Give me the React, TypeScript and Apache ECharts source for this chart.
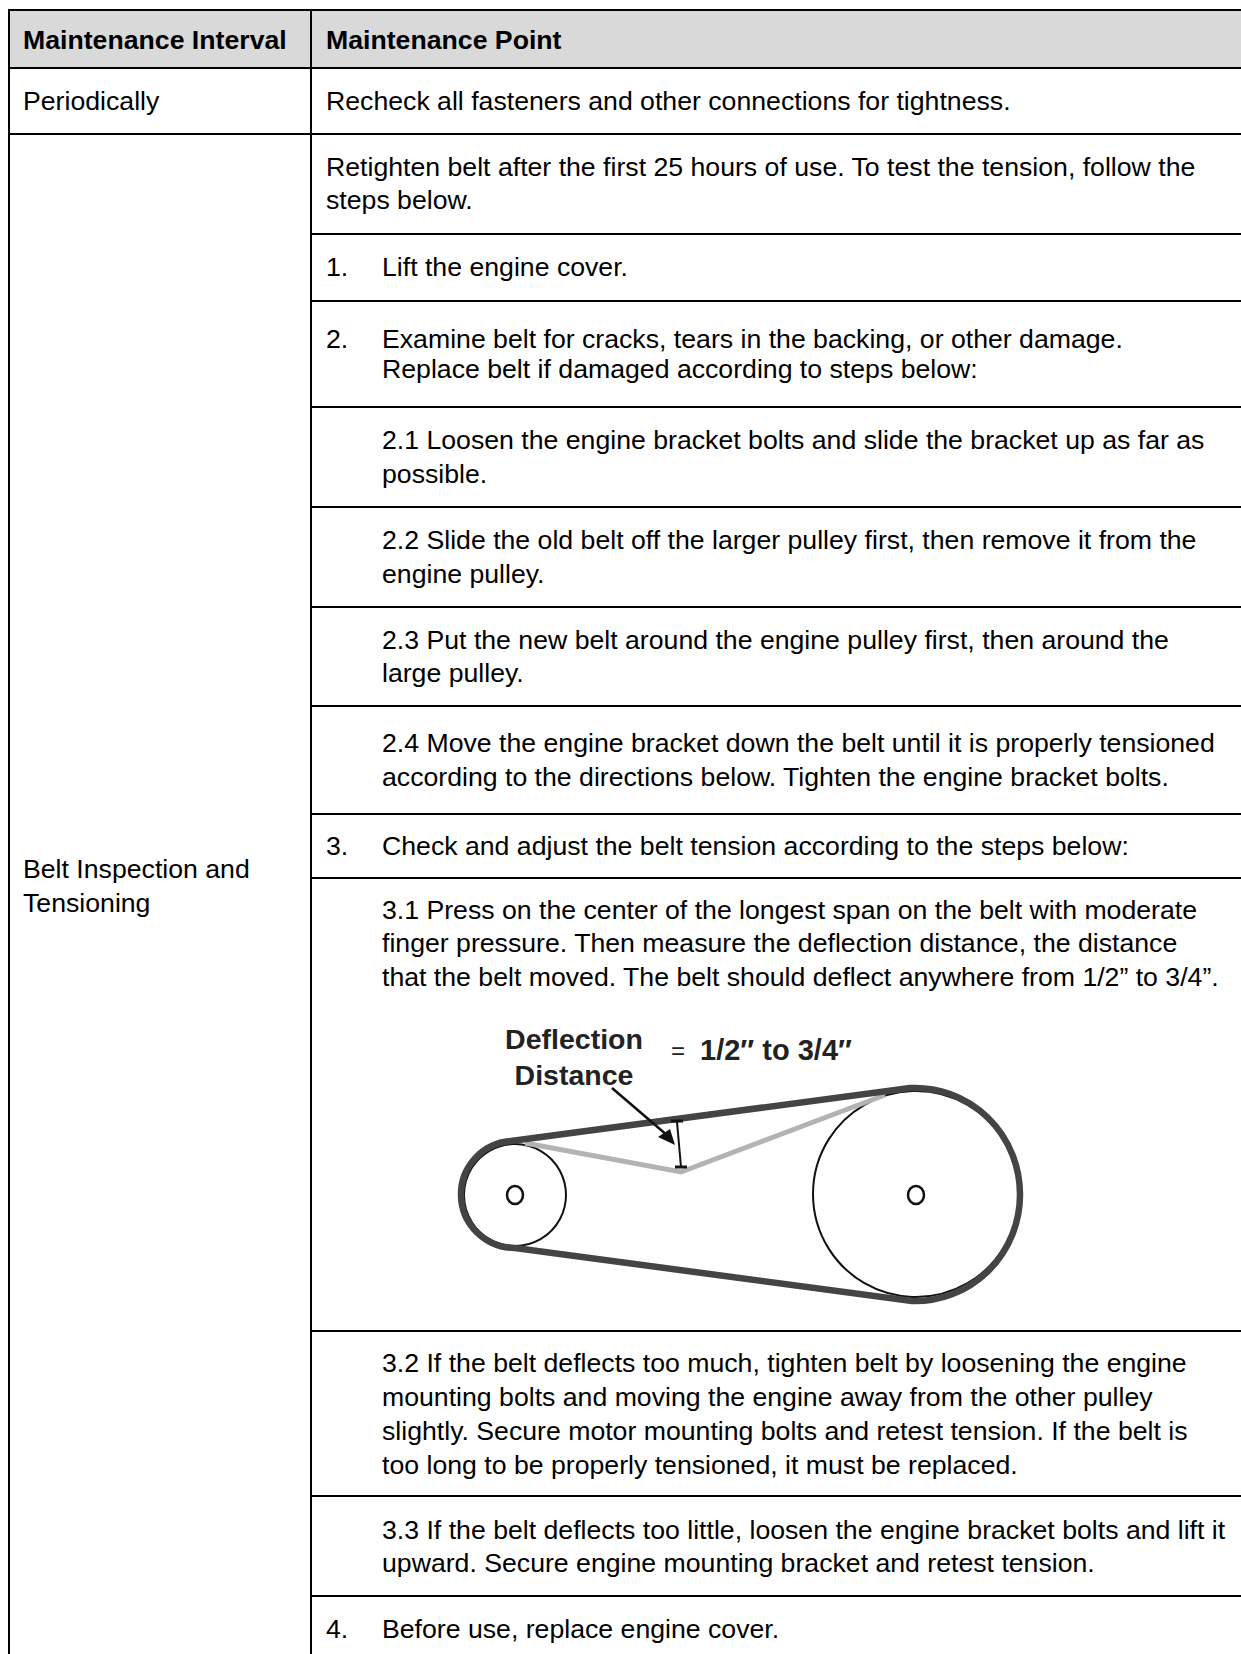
import React, { useEffect, useRef } from "react";
import * as echarts from "echarts";

const headers = ["Maintenance Interval", "Maintenance Point"];
const intervalLabels = ["Periodically", "Belt Inspection and", "Tensioning"];
const stepNumbers = ["1.", "2.", "3.", "4."];
const pointLines = [
  "Recheck all fasteners and other connections for tightness.",
  "Retighten belt after the first 25 hours of use. To test the tension, follow the",
  "steps below.",
];
const stepLines = [
  "Lift the engine cover.",
  "Examine belt for cracks, tears in the backing, or other damage.",
  "Replace belt if damaged according to steps below:",
  "2.1 Loosen the engine bracket bolts and slide the bracket up as far as",
  "possible.",
  "2.2 Slide the old belt off the larger pulley first, then remove it from the",
  "engine pulley.",
  "2.3 Put the new belt around the engine pulley first, then around the",
  "large pulley.",
  "2.4 Move the engine bracket down the belt until it is properly tensioned",
  "according to the directions below. Tighten the engine bracket bolts.",
  "Check and adjust the belt tension according to the steps below:",
  "3.1 Press on the center of the longest span on the belt with moderate",
  "finger pressure. Then measure the deflection distance, the distance",
  "that the belt moved. The belt should deflect anywhere from 1/2” to 3/4”.",
  "3.2 If the belt deflects too much, tighten belt by loosening the engine",
  "mounting bolts and moving the engine away from the other pulley",
  "slightly. Secure motor mounting bolts and retest tension. If the belt is",
  "too long to be properly tensioned, it must be replaced.",
  "3.3 If the belt deflects too little, loosen the engine bracket bolts and lift it",
  "upward. Secure engine mounting bracket and retest tension.",
  "Before use, replace engine cover.",
];
const diagramLabels = ["Deflection", "Distance", "=", "1/2″ to 3/4″"];

const W = 1241;
const H = 1654;
const FONT = '"Liberation Sans", Arial, sans-serif';
const SIZE = 26.67;
const X_LEFT = 9;
const X_COL = 311;
const X_TEXT1 = 23;
const X_TEXT2 = 326;
const X_INDENT = 382;
const ROW_FULL = [10, 68, 134];
const ROW_INNER = [234, 301, 407, 507, 607, 706, 814, 878, 1331, 1496, 1596];
const Y_POINT = [101, 167, 200];
const Y_STEP_NUM = [267, 339, 846, 1629];
const Y_STEP = [267, 339, 369, 440, 474, 540, 574, 640, 673, 743, 777, 846, 910, 943, 977, 1363, 1397, 1431, 1465, 1530, 1563, 1629];
const Y_INTERVAL = [101, 869, 903];

function App() {
  const ref = useRef<HTMLDivElement>(null);
  useEffect(() => {
    document.body.style.margin = "0";
    echarts.graphic.registerShape(
      "beltLoop",
      echarts.graphic.extendPath(
        "M511 1141 L910 1088 A105 106.5 0 0 1 1020 1195 A105 106.5 0 0 1 912 1301 L515 1248 A54 53.5 0 0 1 461 1195 A54 53.5 0 0 1 511 1141 Z",
        {}
      )
    );
    const chart = echarts.init(ref.current!, null, { renderer: "svg" });
    const txt = (s: string, x: number, y: number, extra: any = {}) => ({
      type: "text",
      x,
      y,
      style: { text: s, font: `${SIZE}px ${FONT}`, fill: "#000", textVerticalAlign: "middle", ...extra },
    });
    const ln = (x1: number, y1: number, x2: number, y2: number, stroke = "#000", lineWidth = 2) => ({
      type: "line",
      shape: { x1, y1, x2, y2 },
      style: { stroke, lineWidth },
    });
    const elements: any[] = [
      { type: "rect", shape: { x: X_LEFT, y: ROW_FULL[0], width: W - X_LEFT, height: ROW_FULL[1] - ROW_FULL[0] }, style: { fill: "#d9d9d9" } },
      ...ROW_FULL.map((y) => ln(X_LEFT - 1, y, W, y)),
      ...ROW_INNER.map((y) => ln(X_COL, y, W, y)),
      ln(X_LEFT, ROW_FULL[0], X_LEFT, H),
      ln(X_COL, ROW_FULL[0], X_COL, H),
      txt(headers[0], X_TEXT1, 40, { font: `bold ${SIZE}px ${FONT}` }),
      txt(headers[1], X_TEXT2, 40, { font: `bold ${SIZE}px ${FONT}` }),
      ...intervalLabels.map((s, i) => txt(s, X_TEXT1, Y_INTERVAL[i])),
      ...pointLines.map((s, i) => txt(s, X_TEXT2, Y_POINT[i])),
      ...stepNumbers.map((s, i) => txt(s, X_TEXT2, Y_STEP_NUM[i])),
      ...stepLines.map((s, i) => txt(s, X_INDENT, Y_STEP[i])),
      // diagram
      { type: "circle", shape: { cx: 515, cy: 1195, r: 51 }, style: { fill: "#fff", stroke: "#111", lineWidth: 2 } },
      { type: "circle", shape: { cx: 916, cy: 1194, r: 103 }, style: { fill: "#fff", stroke: "#111", lineWidth: 2 } },
      { type: "ellipse", shape: { cx: 515, cy: 1195, rx: 8, ry: 9 }, style: { fill: "#fff", stroke: "#111", lineWidth: 2.5 } },
      { type: "ellipse", shape: { cx: 916, cy: 1195, rx: 8, ry: 9 }, style: { fill: "#fff", stroke: "#111", lineWidth: 2.5 } },
      { type: "polyline", shape: { points: [[525, 1143], [681, 1172], [885, 1095]] }, style: { stroke: "#b3b3b3", lineWidth: 5, fill: "none" } },
      { type: "beltLoop", style: { fill: "none", stroke: "#444", lineWidth: 6.5 } },
      ln(677, 1122, 681, 1167, "#111", 2),
      ln(671, 1121, 683, 1121, "#111", 3),
      ln(675, 1167, 687, 1167, "#111", 3),
      ln(612, 1088, 668, 1136, "#111", 2.5),
      { type: "polygon", shape: { points: [[675, 1145], [658, 1137], [670, 1129]] }, style: { fill: "#111" } },
      txt(diagramLabels[0], 574, 1039, { font: `bold 28.5px ${FONT}`, textAlign: "center", fill: "#222" }),
      txt(diagramLabels[1], 574, 1075, { font: `bold 28.5px ${FONT}`, textAlign: "center", fill: "#222" }),
      txt(diagramLabels[2], 671, 1050, { font: `24px ${FONT}`, fill: "#222" }),
      txt(diagramLabels[3], 700, 1050, { font: `bold 29px ${FONT}`, fill: "#222" }),
    ];
    chart.setOption({ animation: false, graphic: { elements } });
    return () => chart.dispose();
  }, []);
  return <div ref={ref} style={{ position: "fixed", left: 0, top: 0, width: W, height: H, background: "#fff" }} />;
}

export default App;
